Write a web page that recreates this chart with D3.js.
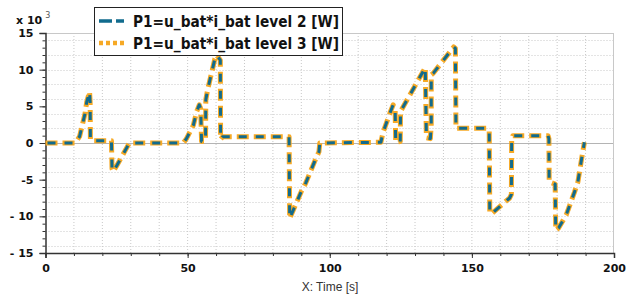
<!DOCTYPE html>
<html>
<head>
<meta charset="utf-8">
<script src="https://cdn.jsdelivr.net/npm/d3@7/dist/d3.min.js"></script>
<style>
  html, body { margin: 0; padding: 0; background: #ffffff; }
  svg { display: block; }
</style>
</head>
<body>
<svg id="chart" width="644" height="299"></svg>
<script>
// ---- data (values in ×10^3 W) ----
const timeS = [0, 10.5, 12.0, 13.9, 14.5, 15.5, 15.7, 15.8, 16.2, 23.2, 23.4, 23.8, 25.2, 28.5, 29.5,
  48.5, 49.6, 52.0, 53.2, 54.1, 54.6, 54.9, 56.3, 56.4, 57.0, 59.6, 60.2, 61.5, 61.6, 62.3,
  85.7, 85.9, 90.0, 91.5, 93.0, 94.7, 96.2, 96.5,
  118.0, 118.7, 121.4, 122.3, 123.0, 123.2, 124.8, 124.9, 133.2, 133.6, 134.0, 135.4, 135.7, 135.7, 136.4,
  143.6, 144.2, 144.4, 155.5, 156.1, 156.3, 156.8, 160.3, 163.3, 163.9, 164.0, 164.4,
  176.8, 177.1, 177.2, 179.3, 179.5, 180.5, 183.2, 186.1, 187.3, 189.0, 189.6];
const level2 = [0, 0, 0.9, 4.0, 5.6, 7.0, 5.6, 0.4, 0.3, 0.3, -3.5, -3.9, -3.0, -0.7, 0,
  0, 0.6, 2.4, 4.3, 5.2, 4.7, 0.2, 0.3, 5.9, 7.2, 11.5, 12.0, 11.3, 0.5, 0.86,
  0.86, -10.3, -6.6, -5.5, -4.1, -2.5, -1.2, 0,
  0.1, 1.4, 4.3, 5.2, 4.6, 0.1, 0.2, 4.3, 10.0, 10.3, 0.7, 0.6, 2.5, 9.3, 9.5,
  13.1, 12.9, 2.0, 2.0, 1.6, -9.5, -9.7, -8.5, -7.5, -7.0, 0.4, 1.0,
  1.0, 0.6, -5.3, -5.6, -11.9, -11.6, -9.8, -6.7, -5.3, -1.2, 0.1];
const level3 = [0, 0, 0.9, 4.0, 5.6, 7.0, 5.6, 0.4, 0.3, 0.3, -3.5, -3.9, -3.0, -0.7, 0,
  0, 0.6, 2.4, 4.3, 5.2, 4.7, 0.2, 0.3, 5.9, 7.2, 11.5, 12.0, 11.3, 0.5, 0.86,
  0.86, -10.3, -6.6, -5.5, -4.1, -2.5, -1.2, 0,
  0.1, 1.4, 4.3, 5.2, 4.6, 0.1, 0.2, 4.3, 10.0, 10.3, 0.7, 0.6, 2.5, 9.3, 9.5,
  13.1, 12.9, 2.0, 2.0, 1.6, -9.5, -9.7, -8.5, -7.5, -7.0, 0.4, 1.0,
  1.0, 0.6, -5.3, -5.6, -11.9, -11.6, -9.8, -6.7, -5.3, -1.2, 0.1];
const seriesNames = ["P1=u_bat*i_bat level 2 [W]", "P1=u_bat*i_bat level 3 [W]"];
const xTicks = [0, 50, 100, 150, 200];
const yTicks = [-15, -10, -5, 0, 5, 10, 15];
const yTickLabels = ["- 15", "- 10", "-5", "0", "5", "10", "15"];
const xLabel = "X: Time [s]";

// ---- layout ----
const svg = d3.select("#chart");
const L = 45.5, R = 614, T = 33, B = 253;
const x = d3.scaleLinear().domain([0, 200]).range([L, R]);
const y = d3.scaleLinear().domain([-15, 15]).range([B, T]);

// grid
const grid = svg.append("g");
grid.selectAll("line.vg").data(d3.range(10, 200, 10)).join("line")
  .attr("x1", d => x(d)).attr("x2", d => x(d)).attr("y1", T).attr("y2", B)
  .attr("stroke", "#c8c8c8").attr("stroke-width", 1).attr("stroke-dasharray", "1,2");
grid.selectAll("line.hg").data(d3.range(-14, 15, 2).filter(d => d !== 0)).join("line")
  .attr("x1", L).attr("x2", R).attr("y1", d => Math.round(y(d)) + 0.5).attr("y2", d => Math.round(y(d)) + 0.5)
  .attr("stroke", "#c8c8c8").attr("stroke-width", 1).attr("stroke-dasharray", "1,2");
// zero line + frame
svg.append("line").attr("x1", L).attr("x2", R).attr("y1", Math.round(y(0)) + 0.5).attr("y2", Math.round(y(0)) + 0.5)
  .attr("stroke", "#b4b4b4").attr("stroke-width", 1);
svg.append("line").attr("x1", L).attr("x2", R).attr("y1", T + 0.5).attr("y2", T + 0.5)
  .attr("stroke", "#c8c8c8").attr("stroke-width", 1);
svg.append("line").attr("x1", R - 0.5).attr("x2", R - 0.5).attr("y1", T).attr("y2", B)
  .attr("stroke", "#c8c8c8").attr("stroke-width", 1);

// axes
const fontTick = "'DejaVu Sans', Verdana, sans-serif";
const yAxis = d3.axisLeft(y).tickValues(yTicks).tickSize(6).tickPadding(6)
  .tickFormat((d, i) => yTickLabels[i]);
const yMinor = d3.axisLeft(y).tickValues(d3.range(-15, 16, 1)).tickSize(3).tickFormat("");
const gy = svg.append("g").attr("transform", `translate(${L},0)`).call(yAxis);
svg.append("g").attr("transform", `translate(${L},0)`).call(yMinor).select(".domain").remove();
gy.select(".domain").attr("stroke", "#333").attr("stroke-width", 1.5);
gy.selectAll("text").attr("font-family", fontTick).attr("font-weight", "bold")
  .attr("font-size", 11).attr("fill", "#111");

const xAxis = d3.axisBottom(x).tickValues(xTicks).tickSize(5).tickPadding(6).tickFormat(d3.format("d"));
const xMinor = d3.axisBottom(x).tickValues(d3.range(0, 201, 10)).tickSize(3).tickFormat("");
const gx = svg.append("g").attr("transform", `translate(0,${B})`).call(xAxis);
svg.append("g").attr("transform", `translate(0,${B})`).call(xMinor).select(".domain").remove();
gx.select(".domain").attr("stroke", "#333").attr("stroke-width", 1.5);
gx.selectAll("text").attr("font-family", fontTick).attr("font-weight", "bold")
  .attr("font-size", 11).attr("fill", "#111");
svg.selectAll(".tick line").attr("stroke", "#333");

// axis title
svg.append("text").attr("x", 330).attr("y", 291).attr("text-anchor", "middle")
  .attr("font-family", "'Liberation Sans', Arial, sans-serif").attr("font-size", 12)
  .attr("fill", "#333").text(xLabel);

// multiplier label
const mul = svg.append("text").attr("x", 16).attr("y", 24)
  .attr("font-family", fontTick).attr("font-weight", "bold").attr("font-size", 11).attr("fill", "#111");
mul.append("tspan").text("x 10");
mul.append("tspan").attr("dx", 3).attr("dy", -6).attr("font-size", 8).attr("font-weight", "normal")
  .attr("fill", "#555").text("3");

// series
const pts2 = timeS.map((t, i) => [t, level2[i]]);
const pts3 = timeS.map((t, i) => [t, level3[i]]);
const line = d3.line().x(d => x(d[0])).y(d => y(d[1]));
const orange = "#f6a925", teal = "#116b8d";
svg.append("path").datum(pts3).attr("d", line).attr("fill", "none")
  .attr("stroke", orange).attr("stroke-width", 5).attr("stroke-dasharray", "12,5")
  .attr("stroke-linejoin", "round");
svg.append("path").datum(pts2).attr("d", line).attr("fill", "none")
  .attr("stroke", teal).attr("stroke-width", 3).attr("stroke-dasharray", "0,2,8,7")
  .attr("stroke-linejoin", "round");

// legend
const lg = svg.append("g");
lg.append("rect").attr("x", 94.5).attr("y", 7.5).attr("width", 248).attr("height", 48)
  .attr("fill", "#fff").attr("stroke", "#222").attr("stroke-width", 1);
const rows = [{ y: 21, color: teal, w: 3.5, dash: "13,4" }, { y: 43, color: orange, w: 4.5, dash: "4,3" }];
rows.forEach((r, i) => {
  lg.append("line").attr("x1", 99).attr("x2", 124).attr("y1", r.y).attr("y2", r.y)
    .attr("stroke", r.color).attr("stroke-width", r.w).attr("stroke-dasharray", r.dash);
  lg.append("text").attr("x", 133).attr("y", r.y + 5.5)
    .attr("font-family", "'DejaVu Sans', Verdana, sans-serif").attr("font-weight", "bold")
    .attr("font-size", 15).attr("fill", "#111")
    .attr("textLength", 206).attr("lengthAdjust", "spacingAndGlyphs")
    .text(seriesNames[i]);
});
</script>
</body>
</html>
